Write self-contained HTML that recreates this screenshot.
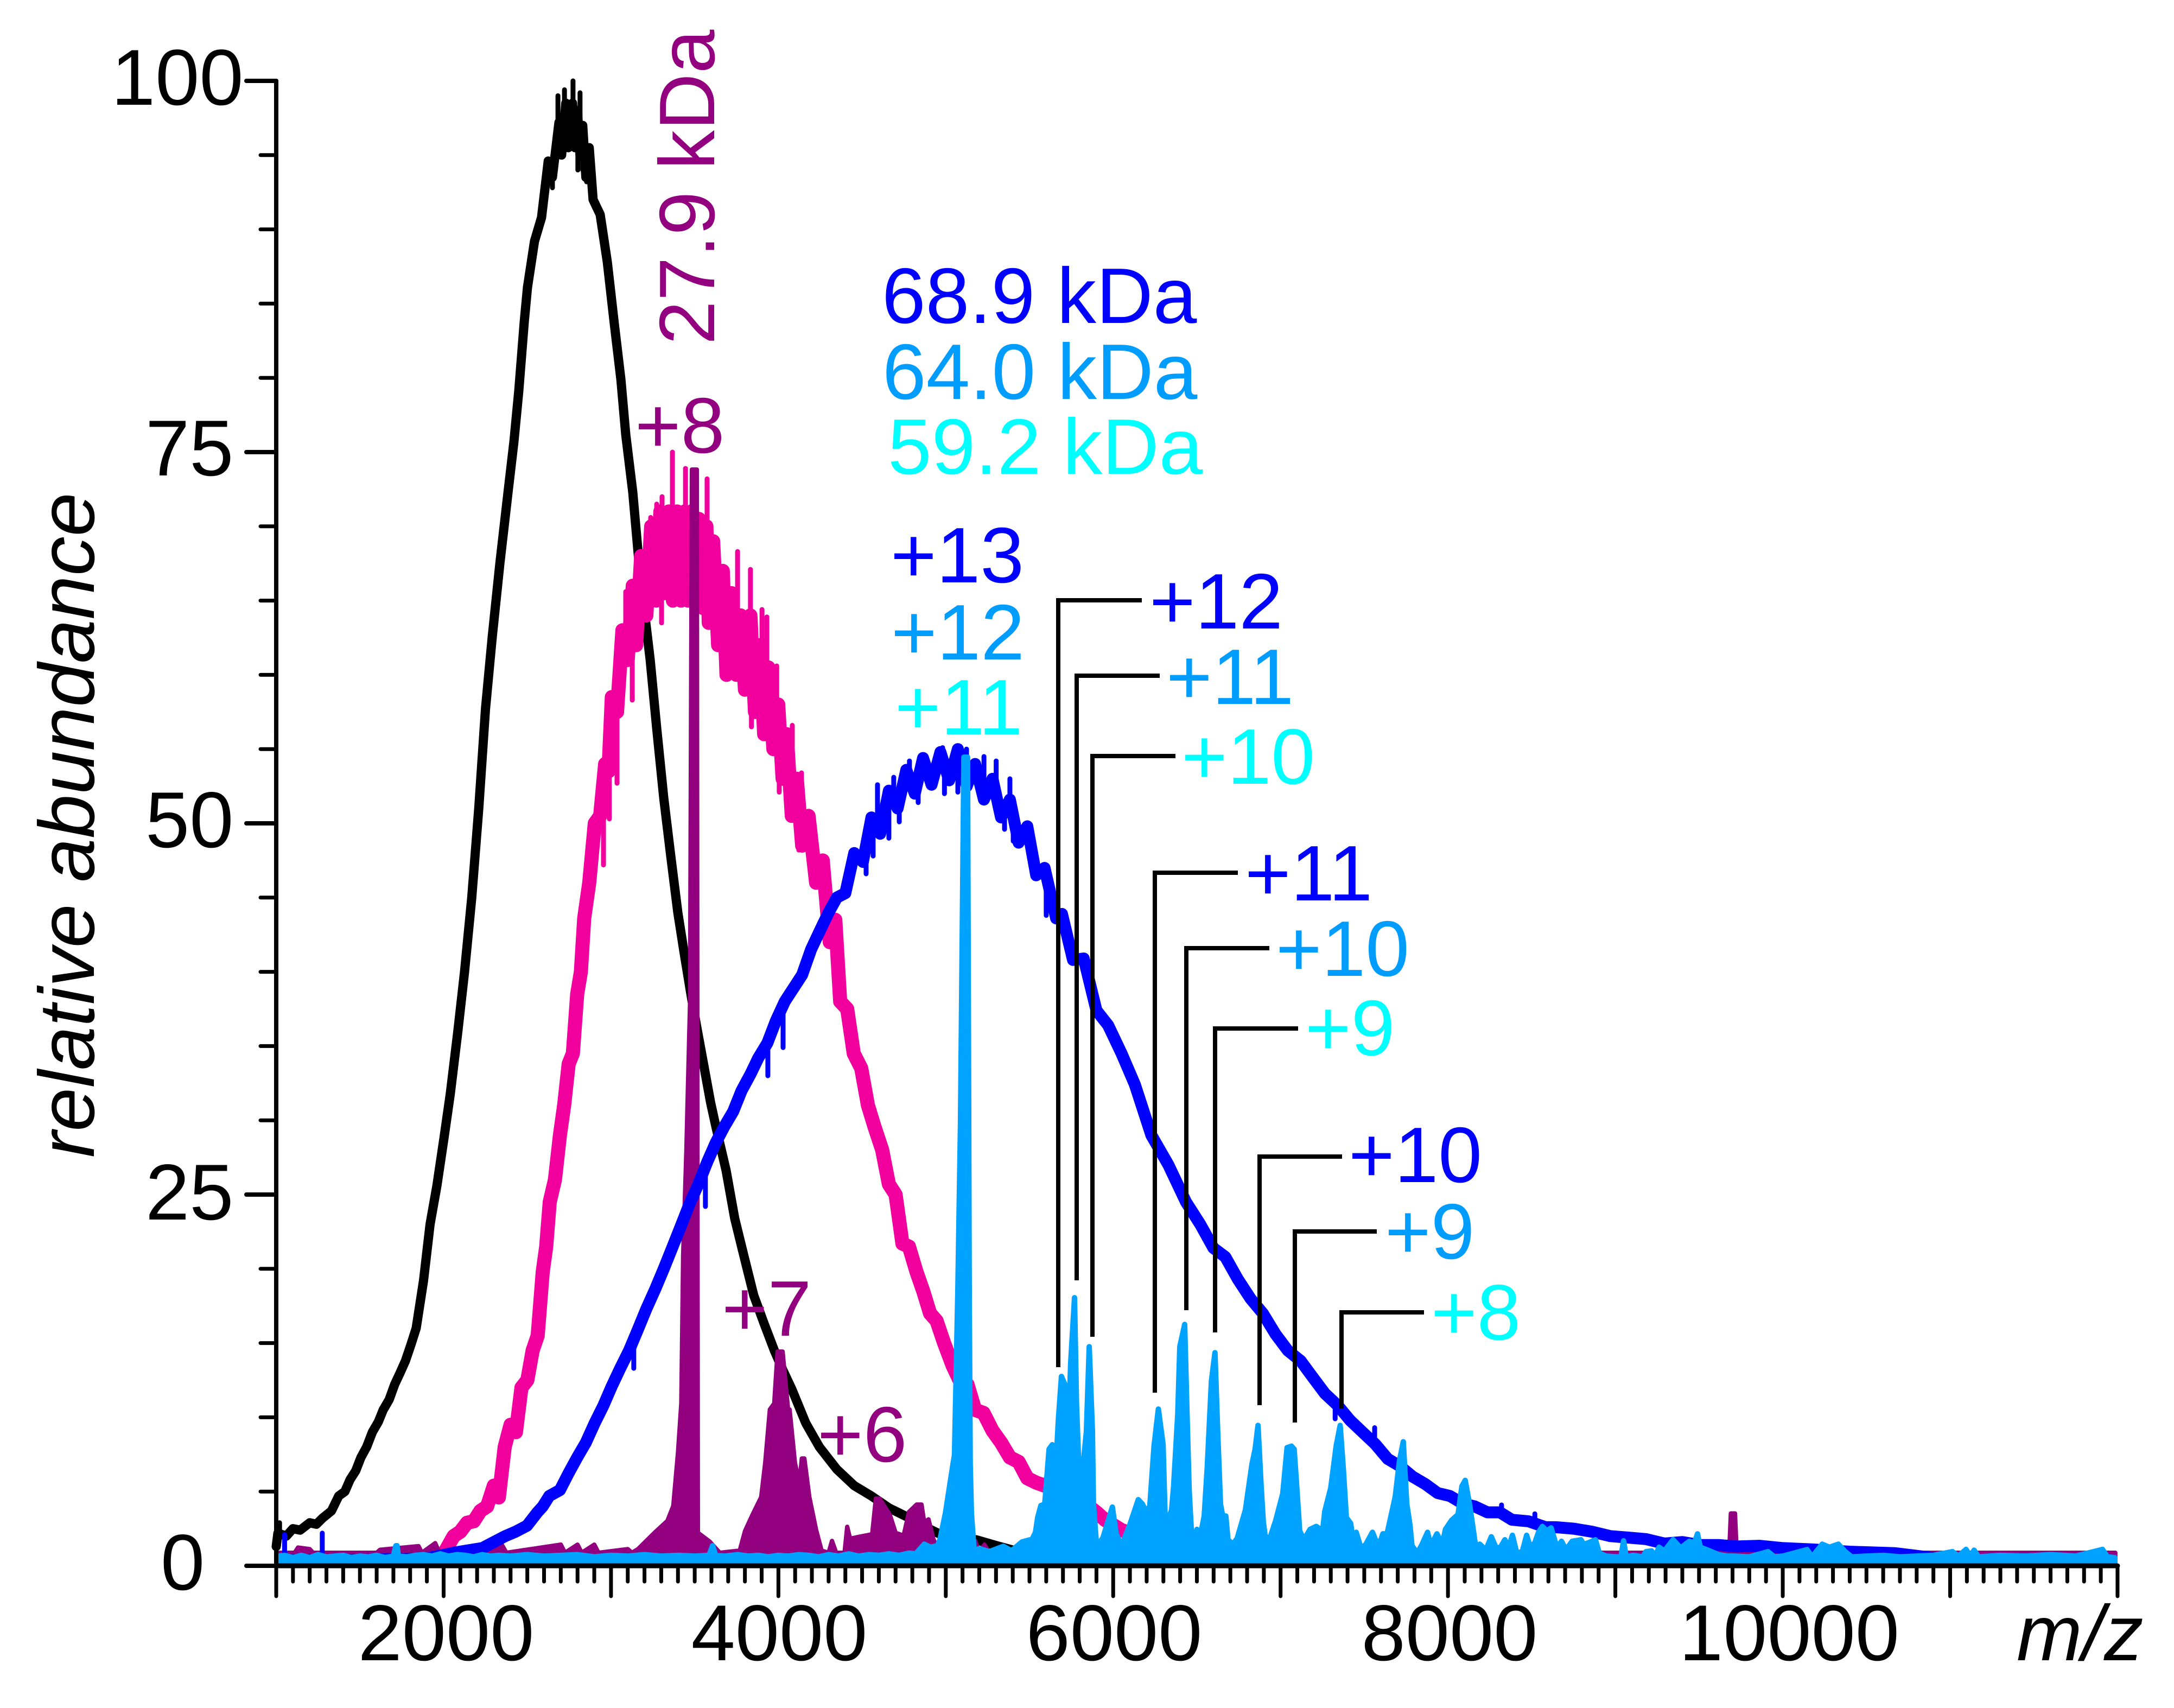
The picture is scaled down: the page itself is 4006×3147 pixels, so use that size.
<!DOCTYPE html>
<html lang="en">
<head>
<meta charset="utf-8">
<title>Mass spectra overlay</title>
<style>
html,body{margin:0;padding:0;background:#fff;width:4006px;height:3147px;overflow:hidden}
svg{display:block}
text{font-family:"Liberation Sans",sans-serif;font-size:145px}
.tick{font-size:146px;fill:#000}
.blue{fill:#0000FF}.azure{fill:#009DFF}.cyan{fill:#00FFFF}.purple{fill:#93007F}
.leader{fill:none;stroke:#000;stroke-width:8;stroke-linejoin:miter}
</style>
</head>
<body>
<svg xmlns="http://www.w3.org/2000/svg" width="4006" height="3147" viewBox="0 0 4006 3147">
<rect width="4006" height="3147" fill="#fff"/>
<g id="series"></g>
<g id="axes"></g>

<g>
<text class="tick" x="205" y="193">100</text>
<text class="tick" x="268" y="876">75</text>
<text class="tick" x="268" y="1561">50</text>
<text class="tick" x="268" y="2247">25</text>
<text class="tick" x="296" y="2929">0</text>
</g>
<g text-anchor="middle">
<text class="tick" x="822" y="3059">2000</text>
<text class="tick" x="1436" y="3059">4000</text>
<text class="tick" x="2053" y="3059">6000</text>
<text class="tick" x="2671" y="3059">8000</text>
<text class="tick" x="3297" y="3059">10000</text>
</g>
<text x="3716" y="3059" font-style="italic">m/z</text>
<text transform="translate(173 2133) rotate(-90)" font-style="italic" style="font-size:145px">relative abundance</text>

<g>
<path class="leader" d="M1950 2519V1106H2104"/>
<path class="leader" d="M1984 2359V1245H2137"/>
<path class="leader" d="M2013 2463V1393H2166"/>
<path class="leader" d="M2128 2566V1608H2281"/>
<path class="leader" d="M2186 2414V1747H2339"/>
<path class="leader" d="M2239 2455V1895H2392"/>
<path class="leader" d="M2321 2589V2131H2473"/>
<path class="leader" d="M2386 2621V2269H2537"/>
<path class="leader" d="M2472 2595V2418H2624"/>
</g>

<g>
<text class="blue" x="1625" y="595">68.9 kDa</text>
<text class="azure" x="1626" y="735">64.0 kDa</text>
<text class="cyan" x="1636" y="873">59.2 kDa</text>
<text class="purple" transform="translate(1316 635) rotate(-90)">27.9 kDa</text>
</g>
<g>
<text class="purple" x="1170" y="834">+8</text>
<text class="purple" x="1330" y="2461">+7</text>
<text class="purple" x="1506" y="2693">+6</text>
<text class="blue" x="1641" y="1073">+13</text>
<text class="azure" x="1642" y="1215">+12</text>
<text class="cyan" x="1649" y="1353">+11</text>
<text class="blue" x="2118" y="1158">+12</text>
<text class="azure" x="2149" y="1297">+11</text>
<text class="cyan" x="2177" y="1444">+10</text>
<text class="blue" x="2294" y="1659">+11</text>
<text class="azure" x="2351" y="1798">+10</text>
<text class="cyan" x="2405" y="1944">+9</text>
<text class="blue" x="2485" y="2178">+10</text>
<text class="azure" x="2552" y="2319">+9</text>
<text class="cyan" x="2637" y="2468">+8</text>
</g>
</svg>

<script>
const yMajorTicks = [0, 25, 50, 75, 100];
const yMinorTicks = [5, 10, 15, 20, 30, 35, 40, 45, 55, 60, 65, 70, 80, 85, 90, 95];
const xMajorTicks = [1000, 2000, 3000, 4000, 5000, 6000, 7000, 8000, 9000, 10000, 11000, 12000];

const blackMz = [
1000,1010,1060,1100,1143,1200,1240,1276,1330,1373,
1410,1441,1475,1506,1540,1574,1610,1639,1675,1707,
1740,1772,1805,1836,1880,1919,1960,2002,2040,2085,
2125,2168,2210,2250,2290,2336,2388,2420,2449,2482,
2501,2543,2585,2625,2650,2689,2705,2730,2745,2770,
2785,2800,2815,2831,2850,2870,2893,2935,2978,3020,
3059,3088,3130,3172,3234,3273,3315,3357,3399,3438,
3480,3520,3564,3595,3626,3688,3739,3791,3853,3915,
3976,4030,4080,4120,4164,4245,4349,4453,4556,4660,
4785,4880,4971,5075,5182,5305,5420,5600,5800,6000];
const blackAbundance = [
1.3,2.2,2.0,2.5,2.4,2.9,2.8,3.2,3.7,4.7,
5.0,5.8,6.4,7.3,8.0,9.0,9.7,10.5,11.2,12.2,
13.0,13.8,14.9,16.0,19.2,23.0,25.6,28.8,31.8,36.0,
40.0,45.0,51.0,57.7,62.5,67.5,72.6,75.7,79.1,83.8,
86.1,89.2,90.8,94.6,93.5,97.2,95.0,98.5,95.5,98.5,
95.5,98.0,95.0,97.0,93.5,95.5,92.0,91.0,87.8,83.6,
79.9,76.2,72.3,66.9,61.0,56.4,51.7,47.8,44.0,41.2,
38.3,35.8,33.1,31.2,29.6,26.6,23.4,21.0,18.2,16.3,
14.5,13.1,11.9,10.8,9.6,8.0,6.5,5.4,4.7,3.9,
3.2,2.6,2.1,1.9,1.75,1.35,1.0,0.8,0.7,0.6];
const blackSpikeMz = [2773, 2722, 2683, 2815, 2802, 2740, 2650, 2831, 2854, 1020];
const blackSpikeValue = [100, 99.4, 99, 99.2, 94, 96, 92.8, 94, 93.2, 2.9];

const pinkMz = [
1100,1500,1900,2000,2060,2100,2140,2180,2220,2260,
2300,2330,2365,2400,2432,2465,2500,2532,2562,2592,
2613,2634,2665,2695,2720,2747,2772,2798,2820,2840,
2870,2903,2935,2965,2985,3005,3036,3068,3100,3130,
3150,3180,3211,3240,3270,3295,3320,3345,3370,3395,
3418,3440,3460,3480,3502,3525,3550,3570,3584,3610,
3640,3668,3690,3720,3749,3775,3800,3833,3860,3890,
3915,3940,3970,3999,4025,4050,4080,4110,4142,4180,
4225,4265,4307,4340,4369,4411,4450,4495,4535,4576,
4620,4660,4700,4741,4780,4825,4865,4906,4945,4990,
5040,5090,5130,5175,5225,5279,5330,5383,5435,5487,
5540,5590,5640,5700,5800,5900,5950,6050,6200,6500,
7000,11800];
const pinkAbundance = [
0.4,0.4,0.5,0.8,2.0,2.3,2.9,3.0,3.7,4.0,
5.4,4.6,8.0,9.5,9.0,12.0,12.5,14.5,15.5,19.8,
21.5,24.5,26.0,29.0,31.0,33.8,34.5,38.5,40.0,43.6,
46.0,50.0,50.5,54.0,53.5,58.5,57.5,63.0,61.0,66.0,
62.0,68.0,64.0,70.0,65.0,71.0,65.5,71.0,65.0,71.0,
65.0,71.0,65.0,71.0,65.0,70.5,64.5,70.0,63.5,69.0,
62.0,67.0,60.0,65.5,60.0,64.0,59.0,64.0,57.5,62.0,
56.0,60.5,55.0,58.0,53.0,56.0,50.5,53.0,48.5,50.5,
46.0,47.5,42.0,43.5,38.0,37.5,34.5,33.5,31.0,29.5,
28.0,25.7,25.0,21.7,21.5,19.8,18.5,17.0,16.5,15.0,
13.5,12.3,12.2,10.5,10.3,9.1,8.3,7.3,7.0,5.9,
5.6,5.4,5.8,5.5,4.5,3.6,3.1,2.4,1.8,0.8,
0.4,0.4];
const pinkSpikeMz = [3367,3445,3574,3305,3273,3756,3833,3902,3931,3990,4083,4138,3088,3039,3237,3302,3388,3428,3564,3668,3759,3839,4005,4077,4122,2955,3036,2990,3127];
const pinkSpikeValue = [75,73.9,73.2,72,71.5,68.3,67.1,64.4,63.9,60.6,56.6,53.4,65.6,62,70.6,63.5,64.8,65.3,63.6,61.6,60.1,56.5,52.1,50.8,48.2,47.2,52.7,50.3,58.3];

const purpleMz = [
1000,1110,1130,1200,1220,1600,1620,1850,1870,1950,
1975,2350,2375,2700,2725,2800,2825,2900,2925,3100,
3125,3161,3260,3337,3372,3400,3420,3431,3450,3472,
3483,3513,3516,3519,3590,3650,3769,3800,3845,3897,
3921,3949,3975,3995,4025,4058,4067,4099,4125,4140,
4155,4185,4225,4258,4300,4320,4345,4395,4411,4428,
4470,4560,4582,4604,4666,4700,4748,4780,4826,4855,
4871,4897,4925,4950,5175,5200,5231,5260,5320,9680,
9690,9715,9725,12000];
const purpleAbundance = [
0.95,0.95,1.3,1.2,0.95,0.95,1.15,1.4,0.95,1.6,
0.95,1.45,0.95,1.5,0.95,1.5,0.95,1.5,0.95,1.2,
0.95,1.2,2.3,3.1,4.1,7.7,11,21,28,38,
73.9,73.9,30,2.3,1.7,0.95,1.1,2.4,3.5,4.7,
7,10.6,11,14.5,14.5,10.6,10.6,7,5.6,7.3,
7.3,4.7,2.5,1.1,0.95,1.75,0.95,0.95,2.7,1.9,
2.0,2.2,4.6,4.6,3.5,2.3,2.1,3.7,4.2,4.2,
3.0,3.2,1.9,1.2,1.75,1.0,1.5,0.95,0.95,0.95,
3.6,3.6,0.95,0.95];

const blueMz = [
1040,1045,1050,1055,1270,1275,1280,1500,1900,2070,
2232,2368,2430,2498,2560,2592,2631,2695,2745,2798,
2850,2902,2955,3005,3055,3108,3160,3211,3263,3315,
3365,3418,3470,3522,3575,3626,3678,3730,3780,3833,
3880,3934,3985,4038,4090,4142,4195,4245,4300,4349,
4400,4453,4505,4556,4608,4660,4712,4764,4815,4864,
4915,4968,5020,5072,5125,5175,5228,5279,5330,5383,
5435,5487,5540,5590,5659,5694,5760,5824,5900,5970,
6050,6130,6228,6330,6435,6520,6599,6670,6745,6820,
6894,6970,7043,7120,7192,7265,7341,7415,7490,7565,
7640,7715,7789,7865,7938,8012,8087,8160,8236,8310,
8382,8480,8583,8645,8752,8859,8970,9076,9183,9293,
9400,9507,9617,9724,9860,9994,10180,10400,10669,11000,
11900];
const blueAbundance = [
0.4,0.4,0.4,0.4,0.4,0.4,0.4,0.4,0.5,0.9,
1.2,2.0,2.3,2.7,3.6,4.0,4.7,5.1,6.2,7.3,
8.3,9.6,10.8,12.1,13.3,14.5,15.9,17.3,18.6,20.0,
21.4,22.9,24.4,25.7,27.2,28.5,29.6,30.6,32.0,33.1,
34.2,35.2,36.7,38.0,38.9,39.8,41.5,42.7,44.0,45.0,
45.3,48.0,47.4,50.4,49.3,52.2,51.0,53.6,52.0,54.4,
52.6,54.8,52.9,55.0,52.5,54.0,51.6,53.0,50.4,51.6,
48.7,49.8,46.5,47.0,43.6,43.9,40.8,40.9,37.4,36.4,
34.5,32.4,29.0,27.0,24.5,23.0,21.4,20.8,19.3,18.0,
17.0,15.6,14.5,13.8,12.7,11.6,10.8,9.8,9.0,8.2,
7.2,6.7,6.0,5.5,4.9,4.7,4.2,4.0,3.6,3.6,
3.1,3.0,2.6,2.6,2.5,2.3,2.0,1.9,1.8,1.5,
1.6,1.4,1.4,1.3,1.35,1.2,1.1,0.95,0.85,0.4,
0.4];
const blueSpikeMz = [1050,1275,4592,4689,4783,4981,5124,5228,5301,5383,4566,4660,4722,4835,4992,5072,5351,5403,5600,4524,3564,3136,4028,3937,8519,8320,7562,7326];
const blueSpikeValue = [2.1,2.2,52.6,53.1,54.2,55.1,55,54.5,54.2,53,47.8,49,50.1,51.4,52,52.1,49.6,48.8,43.8,46.6,24.2,13.3,34.9,33,3.5,4.1,9.3,9.9];

const azureMz = [
1000,1050,1100,1150,1200,1250,1300,1350,1400,1450,
1500,1550,1600,1650,1700,1715,1722,1730,1780,1830,
1880,1930,1980,2030,2080,2130,2180,2230,2280,2330,
2400,2500,2600,2700,2800,2900,3000,3100,3200,3300,
3400,3500,3585,3607,3625,3680,3760,3820,3880,3940,
4000,4060,4120,4180,4240,4300,4360,4420,4480,4540,
4600,4660,4720,4780,4820,4871,4910,4950,4965,4998,
5043,5052,5072,5088,5108,5130,5140,5146,5153,5169,
5202,5260,5344,5393,5455,5516,5536,5549,5568,5591,
5617,5636,5659,5672,5691,5710,5721,5733,5746,5769,
5781,5803,5810,5822,5840,5857,5876,5882,5901,5938,
5995,6018,6050,6099,6150,6175,6200,6219,6244,6270,
6298,6311,6320,6349,6361,6386,6398,6427,6441,6454,
6467,6476,6500,6520,6544,6562,6587,6608,6625,6641,
6654,6673,6686,6716,6741,6767,6790,6829,6848,6865,
6884,6897,6910,6939,6971,7013,7039,7065,7081,7094,
7114,7139,7176,7213,7251,7264,7300,7332,7356,7374,
7393,7419,7431,7452,7481,7510,7549,7567,7591,7611,
7636,7654,7685,7710,7733,7754,7773,7785,7817,7846,
7878,7897,7934,7966,7985,8021,8060,8083,8103,8129,
8147,8171,8190,8226,8259,8288,8314,8340,8363,8385,
8411,8444,8470,8492,8519,8541,8564,8590,8616,8645,
8655,8678,8697,8713,8742,8794,8810,8840,8881,8904,
8946,9033,9049,9065,9108,9163,9183,9216,9238,9261,
9293,9345,9390,9442,9472,9491,9507,9553,9617,9669,
9702,9800,9912,9950,10000,10145,10175,10236,10279,10332,
10373,10412,10500,10600,10700,10800,10900,11014,11050,11095,
11120,11143,11170,11300,11450,11600,11750,11910,11940,12000];
const azureAbundance = [
0.8,0.85,0.7,0.85,0.7,0.9,0.75,0.8,0.85,0.7,
0.8,0.75,0.85,0.7,0.8,1.5,1.5,0.8,0.75,0.85,
0.9,0.8,0.95,0.8,0.9,0.85,0.75,0.9,0.8,0.85,
0.8,0.9,0.8,0.85,0.9,0.75,0.85,0.8,0.9,0.8,
0.85,0.8,0.85,1.5,0.85,0.8,0.9,0.8,0.85,0.75,
0.85,0.8,0.9,0.85,0.75,0.9,0.8,0.95,0.8,0.9,
0.85,0.95,0.85,1.0,0.95,1.6,1.4,1.5,1.9,3.7,
7.0,7.6,18.7,30,54.6,54.6,18.7,7,3.7,1.2,
1.3,1.1,1.46,1.16,1.75,1.94,2.4,3.4,4.2,4.3,
8,8.3,7.1,9.9,12.9,12.4,7.5,9.2,13.8,18.2,
11,4.3,3.9,7.1,9.2,14.9,9.2,4.3,1.5,2,
4.1,2.3,1.5,2.9,4.6,4.3,3.7,4.2,8.2,10.7,
8.3,3.1,3,3.9,5.5,10.4,14.9,16.4,10.4,5.2,
2.5,1.5,2.6,2.1,3.5,6.8,12.6,14.5,9,4.3,
3.5,3.5,1.9,1.6,2,3,3.9,7,8,9.6,
5.5,3.1,2,2.1,3.2,5,8.1,8.2,8,5.9,
2.5,1.9,2.6,2.8,2.5,3.8,5.4,8.2,9.6,6.8,
3.4,3,2,2.4,1.3,1.6,2.4,1.9,1.6,2.3,
2.3,3.2,4.8,7.2,8.5,4.3,2.9,1.5,1,1.6,
2.4,1.5,2.3,1.6,2.6,3.2,3.6,5.5,5.9,4.3,
2.9,1,1.6,1.2,2.1,1.35,1.4,1.9,1.4,2.2,
1,1.1,2.2,1.4,1.7,2.4,2.8,2.5,2.7,1.6,
1.4,1.8,1.4,1.35,1.8,1.9,1.6,1.7,1.9,1,
0.8,0.73,1.83,0.75,0.85,0.75,1.1,1.15,0.8,1.4,
1.15,1.9,1.35,1.8,1.7,2.3,1.4,1.2,0.9,0.8,
0.8,0.75,1.1,0.75,0.8,1.24,0.75,1.6,1.4,1.6,
1.1,0.75,0.8,0.85,0.75,0.8,0.85,1.1,0.8,1.25,
0.8,1.2,0.75,0.85,0.8,0.9,0.8,1.25,0.75,0.7];

const SVG_NS = 'http://www.w3.org/2000/svg';
function xScale(mz) { return 509 + (mz - 1000) * 0.30845; }
function yScale(v) { return 2885 - v * 27.36; }

function linePoints(mz, vals) {
  const out = [];
  const n = Math.min(mz.length, vals.length);
  for (let i = 0; i < n; i++) out.push(xScale(mz[i]).toFixed(1) + ',' + yScale(vals[i]).toFixed(1));
  return out;
}

function levelAt(mz, vals, m) {
  for (let i = 1; i < mz.length; i++) {
    if (m <= mz[i]) return vals[i - 1] + (vals[i] - vals[i - 1]) * (m - mz[i - 1]) / (mz[i] - mz[i - 1]);
  }
  return vals[vals.length - 1];
}

const seriesGroup = document.getElementById('series');
const axesGroup = document.getElementById('axes');

function makeTrace(mz, vals, color, width) {
  const el = document.createElementNS(SVG_NS, 'polyline');
  el.setAttribute('points', linePoints(mz, vals).join(' '));
  el.setAttribute('fill', 'none');
  el.setAttribute('stroke', color);
  el.setAttribute('stroke-width', width);
  el.setAttribute('stroke-linejoin', 'round');
  el.setAttribute('stroke-linecap', 'round');
  seriesGroup.appendChild(el);
  return el;
}

function makeSpike(m, v, mz, vals, color) {
  const el = document.createElementNS(SVG_NS, 'line');
  el.setAttribute('x1', xScale(m));
  el.setAttribute('x2', xScale(m));
  el.setAttribute('y1', yScale(levelAt(mz, vals, m)));
  el.setAttribute('y2', yScale(v));
  el.setAttribute('stroke', color);
  el.setAttribute('stroke-width', 9);
  el.setAttribute('stroke-linecap', 'round');
  seriesGroup.appendChild(el);
  return el;
}

function makeArea(mz, vals, color, width, drop) {
  const pts = linePoints(mz, vals);
  const inset = width / 2;
  pts.unshift((xScale(mz[0]) + inset).toFixed(1) + ',' + (yScale(0) - inset).toFixed(1));
  pts[1] = (xScale(mz[0]) + inset).toFixed(1) + ',' + yScale(vals[0]).toFixed(1);
  pts[pts.length - 1] = (xScale(mz[mz.length - 1]) - inset).toFixed(1) + ',' + yScale(vals[vals.length - 1]).toFixed(1);
  pts.push((xScale(mz[mz.length - 1]) - inset).toFixed(1) + ',' + (yScale(0) - inset).toFixed(1));
  const el = document.createElementNS(SVG_NS, 'polygon');
  el.setAttribute('points', pts.join(' '));
  el.setAttribute('fill', color);
  el.setAttribute('stroke', color);
  el.setAttribute('stroke-width', width);
  el.setAttribute('stroke-linejoin', 'round');
  el.setAttribute('transform', 'translate(0 ' + drop + ')');
  seriesGroup.appendChild(el);
  return el;
}

const blackTrace = makeTrace(blackMz, blackAbundance, '#000000', 17);



blackSpikeMz.forEach(function (m, i) {
  const el = makeSpike(m, blackSpikeValue[i], blackMz, blackAbundance, '#000000');
  
  
});

const pinkTrace = makeTrace(pinkMz, pinkAbundance, '#F2009E', 26);



pinkSpikeMz.forEach(function (m, i) {
  const el = makeSpike(m, pinkSpikeValue[i], pinkMz, pinkAbundance, '#F2009E');
  
  
});

const purpleArea = makeArea(purpleMz, purpleAbundance, '#93007F', 8, 2);



const blueTrace = makeTrace(blueMz, blueAbundance, '#0000FF', 22);



blueSpikeMz.forEach(function (m, i) {
  const el = makeSpike(m, blueSpikeValue[i], blueMz, blueAbundance, '#0000FF');
  
  
});

const azureArea = makeArea(azureMz, azureAbundance, '#00A3FF', 10, 4);



function makeLine(x1, y1, x2, y2, w) {
  const el = document.createElementNS(SVG_NS, 'line');
  el.setAttribute('x1', x1);
  el.setAttribute('y1', y1);
  el.setAttribute('x2', x2);
  el.setAttribute('y2', y2);
  el.setAttribute('stroke', '#000');
  el.setAttribute('stroke-width', w);
  el.setAttribute('stroke-linecap', 'round');
  axesGroup.appendChild(el);
  return el;
}

const xAxisLine = makeLine(xScale(1000), yScale(0), xScale(12000), yScale(0), 9);



const yAxisLine = makeLine(xScale(1000), yScale(0), xScale(1000), yScale(100), 8);



yMajorTicks.forEach(function (v) {
  const el = makeLine(xScale(1000) - 55, yScale(v), xScale(1000), yScale(v), 8);
  
  
});

yMinorTicks.forEach(function (v) {
  const el = makeLine(xScale(1000) - 29, yScale(v), xScale(1000), yScale(v), 7);
  
  
});

xMajorTicks.forEach(function (m) {
  const el = makeLine(xScale(m), yScale(0), xScale(m), yScale(0) + 56, 7);
  
  
});

for (let m = 1100; m < 12000; m += 100) {
  if (m % 1000 === 0) continue;
  const el = makeLine(xScale(m), yScale(0), xScale(m), yScale(0) + 29, 7);
  
  
}
</script>
</body>
</html>
